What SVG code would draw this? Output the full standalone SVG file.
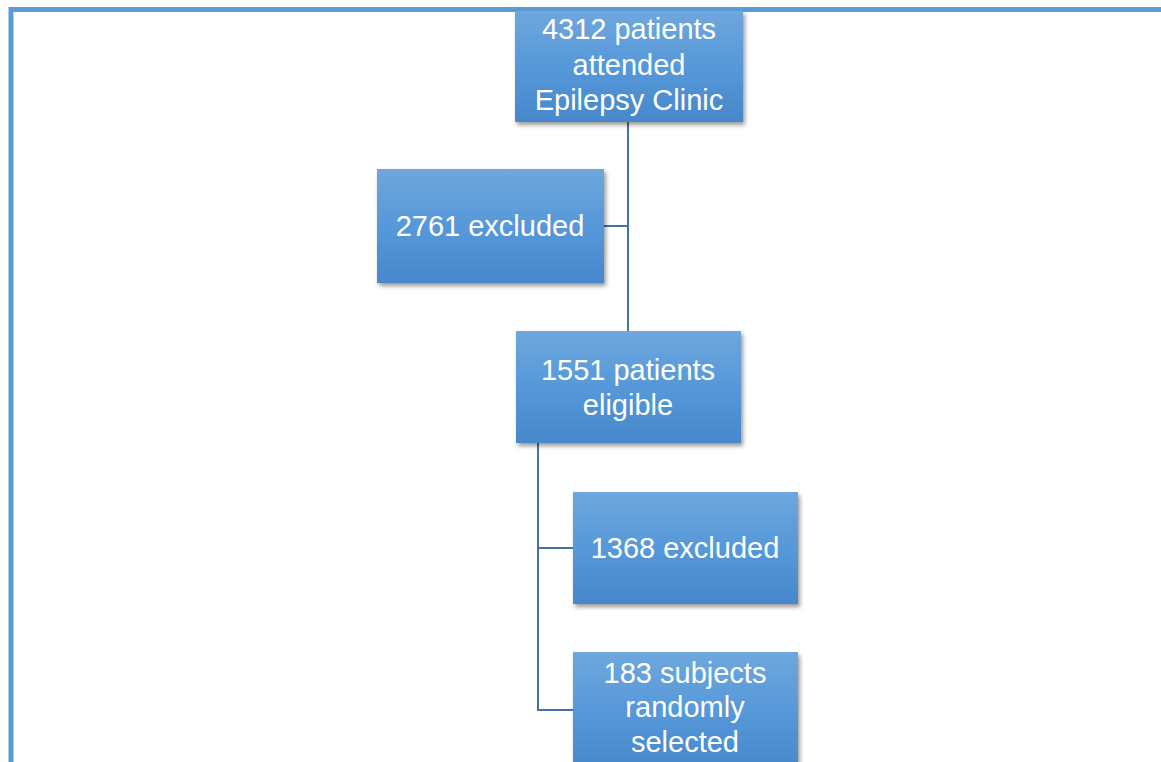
<svg xmlns="http://www.w3.org/2000/svg" width="1161" height="762" viewBox="0 0 1161 762">
<defs>
<linearGradient id="g" x1="0" y1="0" x2="0" y2="1">
<stop offset="0" stop-color="#6fa7dd"/>
<stop offset="0.5" stop-color="#5698d9"/>
<stop offset="1" stop-color="#4688cb"/>
</linearGradient>
<filter id="sh" x="-10%" y="-10%" width="125%" height="130%">
<feDropShadow dx="2" dy="3" stdDeviation="2" flood-color="#000" flood-opacity="0.4"/>
</filter>
<style>
.box{fill:url(#g);filter:url(#sh);}
.t{font-family:"Liberation Sans",Arial,sans-serif;font-size:29px;fill:#fff;text-anchor:middle;}
.c{fill:none;stroke:#4472a4;stroke-width:2;}
</style>
</defs>
<rect width="1161" height="762" fill="#fff"/>
<path d="M11,762 V9.5 H1161" fill="none" stroke="#5b9bd5" stroke-width="5"/>
<g id="connectors">
<path class="c" d="M628,122 V331"/>
<path class="c" d="M604,226 H628"/>
<path class="c" d="M538,443 V710 H573"/>
<path class="c" d="M538,548 H573"/>
</g>
<g id="n1">
<rect class="box" x="515" y="11" width="228" height="111"/>
<text class="t" x="629" y="39">4312 patients</text>
<text class="t" x="629" y="75">attended</text>
<text class="t" x="629" y="110">Epilepsy Clinic</text>
</g>
<g id="n2">
<rect class="box" x="377" y="169" width="227" height="114"/>
<text class="t" x="490" y="236">2761 excluded</text>
</g>
<g id="n3">
<rect class="box" x="516" y="331" width="225" height="112"/>
<text class="t" x="628" y="380">1551 patients</text>
<text class="t" x="628" y="415">eligible</text>
</g>
<g id="n4">
<rect class="box" x="573" y="492" width="225" height="112"/>
<text class="t" x="685" y="558">1368 excluded</text>
</g>
<g id="n5">
<rect class="box" x="573" y="652" width="225" height="120"/>
<text class="t" x="685" y="683">183 subjects</text>
<text class="t" x="685" y="717">randomly</text>
<text class="t" x="685" y="752">selected</text>
</g>
</svg>
